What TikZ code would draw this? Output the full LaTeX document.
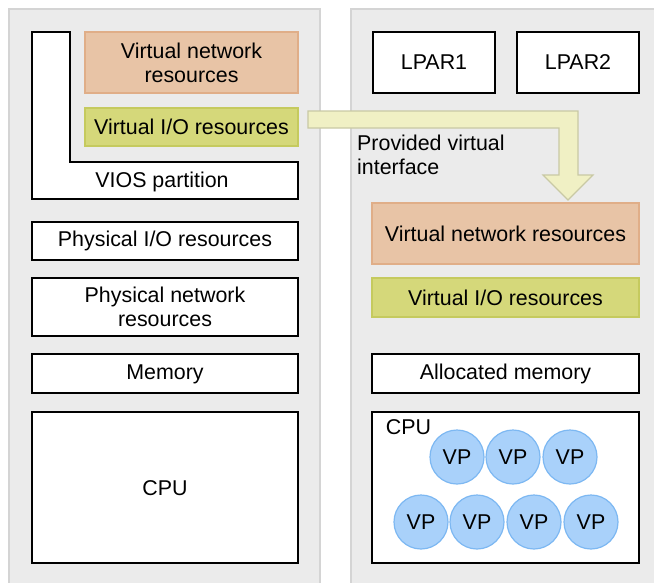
\documentclass[tikz,border=0pt]{standalone}
\usepackage{fontspec}
\setmainfont{Liberation Sans}
\definecolor{panelfill}{HTML}{EBEBEB}
\definecolor{paneldraw}{HTML}{D4D4D4}
\definecolor{netfill}{HTML}{E8C4A6}
\definecolor{netdraw}{HTML}{E0AE88}
\definecolor{iofill}{HTML}{D5D87A}
\definecolor{iodraw}{HTML}{C5CA5E}
\definecolor{arrfill}{HTML}{F0F0C4}
\definecolor{arrdraw}{HTML}{C9C9A4}
\definecolor{vpfill}{HTML}{A9D1FA}
\definecolor{vpdraw}{HTML}{7DB8F2}
\begin{document}
\begin{tikzpicture}[x=1pt,y=-1pt,
  every node/.style={font=\fontsize{21.4}{24}\selectfont, align=center, inner sep=0pt},
  panel/.style={fill=panelfill, draw=paneldraw, line width=1.5pt},
  wbox/.style={fill=white, draw=black, line width=1.5pt},
  netbox/.style={fill=netfill, draw=netdraw, line width=1.2pt},
  iobox/.style={fill=iofill, draw=iodraw, line width=1.2pt},
  vp/.style={circle, fill=vpfill, draw=vpdraw, line width=1.2pt, minimum size=54pt}]
\useasboundingbox (0,0) rectangle (654,582);
\begin{scope}
\clip (0,0) rectangle (654,582);
% panels
\draw[panel] (9,9) rectangle (320,600);
\draw[panel] (351,9) rectangle (670,600);
% VIOS partition L-shape
\draw[wbox] (32,32) -- (70,32) -- (70,162) -- (298,162) -- (298,199) -- (32,199) -- cycle;
\node (vios) at (162,181.5) {VIOS partition};
% left boxes
\draw[netbox] (85,32) rectangle (298,93);
\node (lvnr) at (191.5,62.5) {Virtual network\\resources};
\draw[iobox] (85,108) rectangle (298,146);
\node (lvio) at (191.5,127) {Virtual I/O resources};
\draw[wbox] (32,222) rectangle (298,260);
\node (pio) at (165,241) {Physical I/O resources};
\draw[wbox] (32,278) rectangle (298,336);
\node (pnr) at (165,307) {Physical network\\resources};
\draw[wbox] (32,354) rectangle (298,393);
\node (mem) at (165,374) {Memory};
\draw[wbox] (32,412) rectangle (298,563);
\node (lcpu) at (165,488) {CPU};
% right top boxes
\draw[wbox] (373,32) rectangle (495,93);
\node (lpar1) at (434,62.5) {LPAR1};
\draw[wbox] (517,32) rectangle (639,93);
\node (lpar2) at (578,62.5) {LPAR2};
% arrow
\draw[fill=arrfill, draw=arrdraw, line width=1.2pt, line join=miter]
  (308,111) -- (578,111) -- (578,175) -- (593,175) -- (568,200) -- (543,175)
  -- (559,175) -- (559,128) -- (308,128) -- cycle;
\node[align=left, anchor=north west] (pvi) at (357,135) {Provided virtual\\interface};
% right boxes
\draw[netbox] (372,203) rectangle (639,264);
\node (rvnr) at (505.5,233.5) {Virtual network resources};
\draw[iobox] (372,278) rectangle (639,317);
\node (rvio) at (505.5,297.5) {Virtual I/O resources};
\draw[wbox] (372,354) rectangle (639,393);
\node (amem) at (505.5,374) {Allocated memory};
\draw[wbox] (372,412) rectangle (639,563);
\node (rcpu) at (408.5,427) {CPU};
% VPs
\node[vp] (vp1) at (457,457) {VP};
\node[vp] (vp2) at (513,457) {VP};
\node[vp] (vp3) at (570,457) {VP};
\node[vp] (vp4) at (421,522) {VP};
\node[vp] (vp5) at (477,522) {VP};
\node[vp] (vp6) at (534,522) {VP};
\node[vp] (vp7) at (591,522) {VP};
\end{scope}
\end{tikzpicture}
\end{document}
